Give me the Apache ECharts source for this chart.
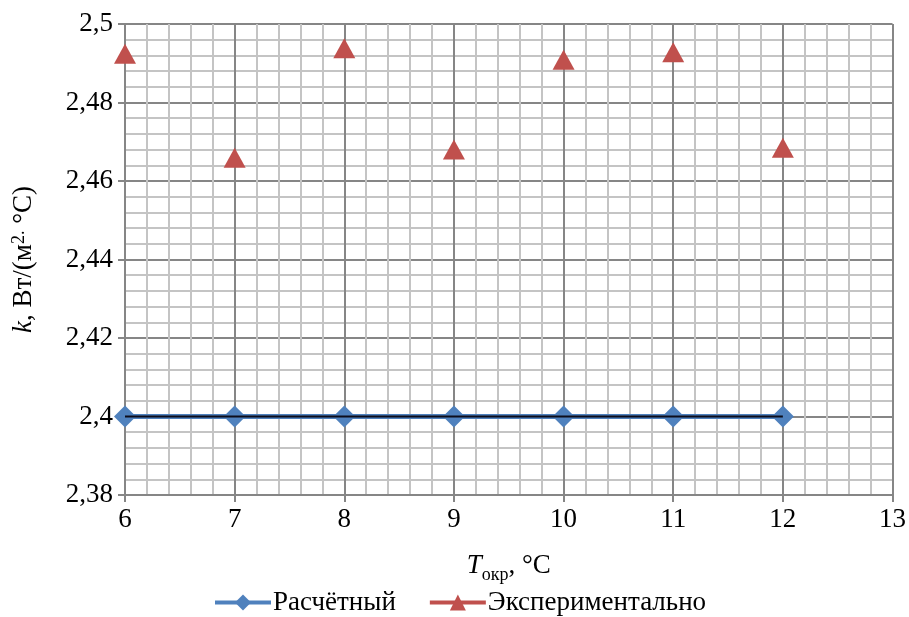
<!DOCTYPE html>
<html>
<head>
<meta charset="utf-8">
<script src="https://cdn.jsdelivr.net/npm/echarts@6/dist/echarts.min.js"></script>
<style>html,body{margin:0;padding:0;background:#fff}#c{width:909px;height:617px}</style>
</head>
<body>
<div id="c"></div>
<script>
const temps = [6, 7, 8, 9, 10, 11, 12];
const calculated = [2.4, 2.4, 2.4, 2.4, 2.4, 2.4, 2.4];
const experimental = [2.4924, 2.4659, 2.4938, 2.468, 2.4909, 2.4928, 2.4685];
const seriesNames = ['Расчётный', 'Экспериментально'];

const FONT = '"Liberation Serif", "Times New Roman", serif';
const FS = 27;
const zip = (xs, ys) => xs.map((x, i) => [x, ys[i]]);
const fmt = v => String(+v.toFixed(3)).replace('.', ',');

const chart = echarts.init(document.getElementById('c'), null, {renderer: 'canvas'});
chart.setOption({
  animation: false,
  backgroundColor: '#fff',
  grid: {left: 125, right: 14, top: 24, bottom: 122, containLabel: false},
  xAxis: {
    type: 'value', min: 6, max: 13, interval: 1,
    axisLine: {show: true, onZero: false, lineStyle: {color: '#868686', width: 2}},
    axisTick: {show: true, length: 7, lineStyle: {color: '#868686', width: 2}},
    minorTick: {show: false, splitNumber: 5},
    splitLine: {show: true, lineStyle: {color: '#868686', width: 2}},
    minorSplitLine: {show: true, lineStyle: {color: '#c4c4c4', width: 2}},
    axisLabel: {fontFamily: FONT, fontSize: FS, color: '#000', margin: 11},
    name: '{i|T}{sub|окр}{n|, °C}',
    nameLocation: 'middle', nameGap: 57,
    nameTextStyle: {
      fontFamily: FONT, fontSize: FS, color: '#000',
      rich: {
        i: {fontFamily: FONT, fontSize: FS, fontStyle: 'italic', color: '#000', lineHeight: 32, verticalAlign: 'top'},
        sub: {fontFamily: FONT, fontSize: 18, color: '#000', lineHeight: 32, verticalAlign: 'bottom'},
        n: {fontFamily: FONT, fontSize: FS, color: '#000', lineHeight: 32, verticalAlign: 'top'}
      }
    }
  },
  yAxis: {
    type: 'value', min: 2.38, max: 2.5, interval: 0.02,
    axisLine: {show: true, onZero: false, lineStyle: {color: '#868686', width: 2}},
    axisTick: {show: true, length: 7, lineStyle: {color: '#868686', width: 2}},
    minorTick: {show: false, splitNumber: 5},
    splitLine: {show: true, lineStyle: {color: '#868686', width: 2}},
    minorSplitLine: {show: true, lineStyle: {color: '#c4c4c4', width: 2}},
    axisLabel: {fontFamily: FONT, fontSize: FS, color: '#000', margin: 12, formatter: fmt},
    name: '{i|k}{n|, Вт/(м}{sup|2.}{n| °C)}',
    nameLocation: 'middle', nameGap: 88, nameRotate: 90,
    nameTextStyle: {
      fontFamily: FONT, fontSize: FS, color: '#000',
      rich: {
        i: {fontFamily: FONT, fontSize: FS, fontStyle: 'italic', color: '#000', lineHeight: 27, verticalAlign: 'bottom'},
        n: {fontFamily: FONT, fontSize: FS, color: '#000', lineHeight: 27, verticalAlign: 'bottom'},
        sup: {fontFamily: FONT, fontSize: 18, color: '#000', lineHeight: 18, verticalAlign: 'top'}
      }
    }
  },
  legend: {
    left: 208, top: 584, itemWidth: 56, itemHeight: 20, itemGap: 32,
    textStyle: {fontFamily: FONT, fontSize: FS, color: '#000', padding: [0, 0, 0, -3]},
    data: [
      {name: seriesNames[0], lineStyle: {color: '#4F81BD', width: 4}},
      {name: seriesNames[1], lineStyle: {color: '#C0504D', width: 4, opacity: 1}}
    ]
  },
  series: [
    {
      name: seriesNames[0], type: 'line', data: zip(temps, calculated),
      symbol: 'diamond', symbolSize: 22, showAllSymbol: true,
      lineStyle: {color: '#4F81BD', width: 5},
      itemStyle: {color: '#4F81BD'}, z: 3
    },
    {
      name: 'overlay', type: 'line', data: zip(temps, calculated),
      symbol: 'none', lineStyle: {color: '#0d0d1a', width: 2}, z: 5,
      silent: true
    },
    {
      name: seriesNames[1], type: 'line', data: zip(temps, experimental),
      symbol: 'triangle', symbolSize: [22, 20], showAllSymbol: true,
      lineStyle: {color: '#C0504D', width: 0, opacity: 0},
      itemStyle: {color: '#C0504D'}, z: 4
    }
  ]
});
</script>
</body>
</html>
